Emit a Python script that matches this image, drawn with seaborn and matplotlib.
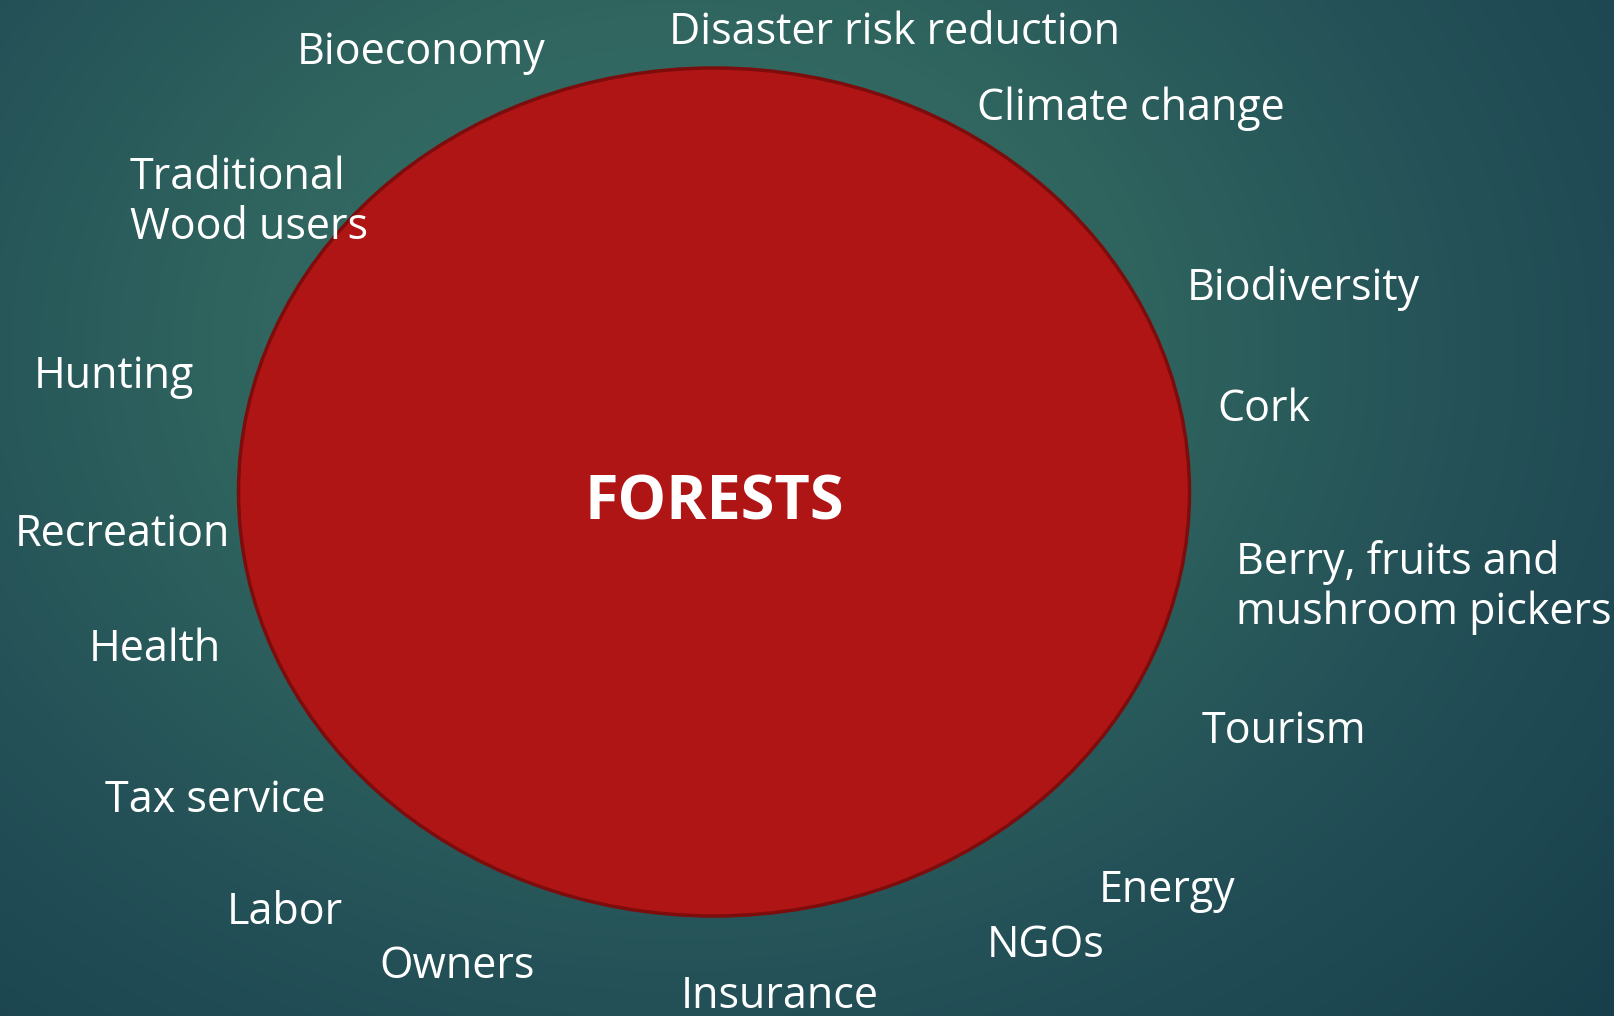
import numpy as np
import matplotlib.pyplot as plt
import matplotlib.patches as mpatches
from matplotlib.colors import LinearSegmentedColormap
import seaborn as sns

# Etiquetas alrededor del bosque (posición = esquina izquierda, línea base de la última línea, en px)
labels = ["Disaster risk reduction", "Bioeconomy", "Climate change",
          "Traditional\nWood users", "Biodiversity", "Hunting", "Cork",
          "Recreation", "Berry, fruits and\nmushroom pickers", "Health",
          "Tourism", "Tax service", "Energy", "Labor", "NGOs", "Owners",
          "Insurance"]
label_x = [669, 297, 977, 130, 1187, 34, 1217, 15, 1236, 89, 1202, 105,
           1099, 227, 987, 379, 681]
label_y = [44, 64, 120, 239, 300, 388, 421, 546, 624, 661, 743, 812, 902,
           924, 957, 978, 1008]

center_label = "FORESTS"
forest_center = (714, 492)
forest_size = (951, 848)

W, H = 1615, 1016

sns.set_theme(style="white")
plt.rcParams['font.family'] = ['Open Sans', 'DejaVu Sans']

fig = plt.figure(figsize=(W / 100, H / 100), dpi=100)
ax = fig.add_axes([0, 0, 1, 1])

# Fondo con degradado radial
yy, xx = np.mgrid[0:H, 0:W]
d = np.sqrt(((xx - 680) / 1250) ** 2 + ((yy - 350) / 1000) ** 2)
bg = LinearSegmentedColormap.from_list("bg", ["#37716b", "#30665f", "#234f57", "#173f4b"])
ax.imshow(np.clip(d, 0, 1), cmap=bg, extent=[0, W, H, 0], aspect='auto', zorder=0)

ellipse = mpatches.Ellipse(forest_center, forest_size[0], forest_size[1],
                           facecolor="#b01515", edgecolor="#7d0c0c", linewidth=2.5, zorder=1)
ax.add_patch(ellipse)

ax.text(forest_center[0], forest_center[1] + 28, center_label, color="white",
        fontsize=44, fontweight="bold", ha="center", va="baseline", zorder=3)

for txt, x, y in zip(labels, label_x, label_y):
    ax.text(x, y, txt, color="white", fontsize=31, ha="left", va="baseline",
            linespacing=1.15, zorder=3)

ax.set_xlim(0, W)
ax.set_ylim(H, 0)
ax.axis("off")

plt.savefig("out.png", dpi=100)
